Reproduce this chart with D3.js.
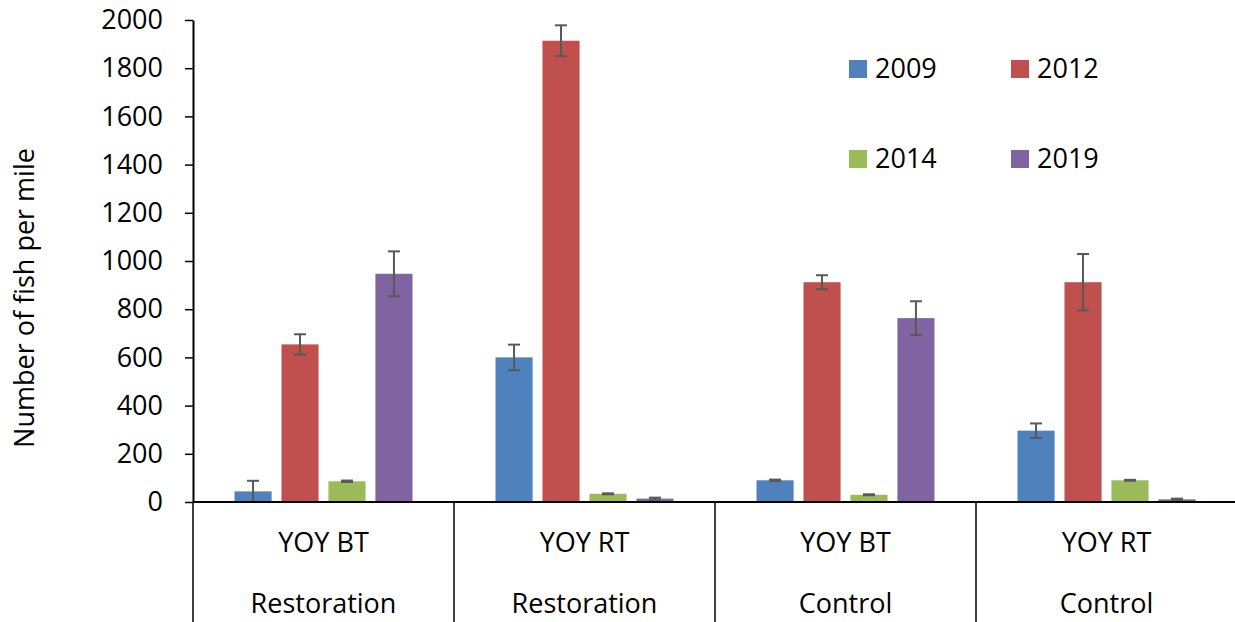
<!DOCTYPE html>
<html>
<head>
<meta charset="utf-8">
<script src="https://cdn.jsdelivr.net/npm/d3@7"></script>
<style>
  body { margin: 0; background: #fff; }
  text { font-family: "Open Sans", sans-serif; fill: #000; }
</style>
</head>
<body>
<svg id="chart" width="1235" height="622"></svg>
<script>
const species = ["YOY BT", "YOY RT", "YOY BT", "YOY RT"];
const sites = ["Restoration", "Restoration", "Control", "Control"];
const years = ["2009", "2012", "2014", "2019"];
const colors = ["#4F81BD", "#C0504D", "#9BBB59", "#8064A2"];

// mean per group, one array per year
const v2009 = [44, 600, 90, 296];
const v2012 = [654, 1914, 912, 912];
const v2014 = [86, 34, 30, 90];
const v2019 = [947, 14, 763, 11];

// error (half-length)
const e2009 = [44, 53, 3, 30];
const e2012 = [42, 64, 29, 117];
const e2014 = [3, 2, 2, 2];
const e2019 = [93, 4, 70, 3];

const yTicks = [0, 200, 400, 600, 800, 1000, 1200, 1400, 1600, 1800, 2000];

const values = [v2009, v2012, v2014, v2019];
const errors = [e2009, e2012, e2014, e2019];

const margin = { top: 20, left: 193 };
const plotH = 482;
const bandW = 261;
const fs = "27px";

const svg = d3.select("#chart");
const g = svg.append("g").attr("transform", `translate(${margin.left},${margin.top})`);

const groups = d3.range(species.length);
const x0 = d3.scaleBand().domain(groups).range([0, bandW * groups.length]);
const x1 = d3.scaleBand().domain(years).range([41.5, bandW - 41.5]).paddingInner(0.21);
const y = d3.scaleLinear().domain([0, 2000]).range([plotH, 0]);

const rows = [];
groups.forEach(i => {
  years.forEach((yr, k) => {
    rows.push({ i, yr, k, v: values[k][i], e: errors[k][i] });
  });
});

// bars
g.selectAll("rect.bar")
  .data(rows)
  .enter().append("rect")
  .attr("class", "bar")
  .attr("x", d => x0(d.i) + x1(d.yr))
  .attr("y", d => y(d.v))
  .attr("width", x1.bandwidth())
  .attr("height", d => y(0) - y(d.v))
  .attr("fill", d => colors[d.k]);

// error bars
const eb = g.selectAll("g.err")
  .data(rows)
  .enter().append("g")
  .attr("class", "err")
  .attr("transform", d => `translate(${x0(d.i) + x1(d.yr) + x1.bandwidth() / 2},0)`)
  .attr("stroke", "#595959")
  .attr("stroke-width", 2);

eb.append("line")
  .attr("y1", d => y(d.v + d.e))
  .attr("y2", d => y(Math.max(0, d.v - d.e)));
eb.append("line")
  .attr("x1", -6).attr("x2", 6)
  .attr("y1", d => y(d.v + d.e)).attr("y2", d => y(d.v + d.e));
eb.append("line")
  .attr("x1", -6).attr("x2", 6)
  .attr("y1", d => y(Math.max(0, d.v - d.e))).attr("y2", d => y(Math.max(0, d.v - d.e)));

// y axis
const yAxis = g.append("g")
  .call(d3.axisLeft(y).tickValues(yTicks).tickFormat(d3.format("d"))
    .tickSize(8).tickSizeOuter(0).tickPadding(22));
yAxis.select(".domain").attr("stroke", "#000").attr("stroke-width", 2);
yAxis.selectAll(".tick line").attr("stroke", "#000").attr("stroke-width", 1.5);
yAxis.selectAll(".tick text")
  .style("font-family", "'Open Sans', sans-serif")
  .style("font-size", fs)
  .attr("fill", "#000");

// x axis baseline
g.append("line")
  .attr("x1", 0).attr("x2", 1235 - margin.left)
  .attr("y1", y(0)).attr("y2", y(0))
  .attr("stroke", "#000").attr("stroke-width", 2);

// category separators
g.selectAll("line.sep")
  .data(d3.range(groups.length + 1))
  .enter().append("line")
  .attr("class", "sep")
  .attr("x1", d => d * bandW).attr("x2", d => d * bandW)
  .attr("y1", y(0)).attr("y2", 622 - margin.top)
  .attr("stroke", "#000").attr("stroke-width", 1.5);

// category labels
g.selectAll("text.sp")
  .data(groups)
  .enter().append("text")
  .attr("class", "sp")
  .attr("x", d => x0(d) + bandW / 2)
  .attr("y", 532)
  .attr("text-anchor", "middle")
  .style("font-size", fs)
  .text(d => species[d]);

g.selectAll("text.site")
  .data(groups)
  .enter().append("text")
  .attr("class", "site")
  .attr("x", d => x0(d) + bandW / 2)
  .attr("y", 593)
  .attr("text-anchor", "middle")
  .style("font-size", fs)
  .text(d => sites[d]);

// y title
svg.append("text")
  .attr("transform", "translate(34,298) rotate(-90)")
  .attr("text-anchor", "middle")
  .style("font-size", fs)
  .text("Number of fish per mile");

// legend
const legPos = [[849, 60], [1011, 60], [849, 150], [1011, 150]];
const leg = svg.selectAll("g.leg")
  .data(years)
  .enter().append("g")
  .attr("class", "leg")
  .attr("transform", (d, k) => `translate(${legPos[k][0]},${legPos[k][1]})`);
leg.append("rect")
  .attr("width", 18).attr("height", 18)
  .attr("fill", (d, k) => colors[k]);
leg.append("text")
  .attr("x", 26).attr("y", 18)
  .style("font-size", fs)
  .text(d => d);
</script>
</body>
</html>
